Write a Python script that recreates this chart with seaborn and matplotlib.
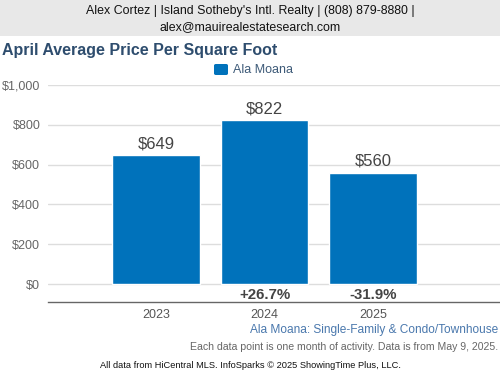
import matplotlib
matplotlib.use("Agg")
import matplotlib.pyplot as plt
from matplotlib.patches import Rectangle, FancyBboxPatch
import seaborn as sns
import pandas as pd

years = ["2023", "2024", "2025"]
values = [649, 822, 560]
value_labels = ["$649", "$822", "$560"]
pct_labels = ["", "+26.7%", "-31.9%"]
yticks = [0, 200, 400, 600, 800, 1000]
ytick_labels = ["$0", "$200", "$400", "$600", "$800", "$1,000"]
series = "Ala Moana"

sns.set_style("white")
plt.rcParams["font.family"] = ["Liberation Sans", "DejaVu Sans"]

W, H = 500, 375
fig = plt.figure(figsize=(5, 3.75), dpi=100)

def fx(px):
    return px / W

def fy(py):
    return 1 - py / H

# Header band
fig.patches.append(Rectangle((0, fy(36)), 1, 36 / H, transform=fig.transFigure,
                             facecolor="#e8e8e8", edgecolor="none", zorder=0))
fig.text(0.5, fy(11), "Alex Cortez | Island Sotheby's Intl. Realty | (808) 879-8880 |",
         ha="center", va="center", fontsize=8.9, color="#111111")
fig.text(0.5, fy(27), "alex@mauirealestatesearch.com",
         ha="center", va="center", fontsize=8.9, color="#111111")

fig.text(fx(2), fy(50), "April Average Price Per Square Foot", ha="left", va="center",
         fontsize=11.5, fontweight="bold", color="#2e4d6e")

# Legend
color = "#0072bb"
fig.patches.append(FancyBboxPatch((fx(214), fy(75)), 14 / W, 11 / H,
                                  boxstyle="round,pad=0,rounding_size=0.004",
                                  transform=fig.transFigure, facecolor=color,
                                  edgecolor="none"))
fig.text(fx(233), fy(70), series, ha="left", va="center", fontsize=9, color="#3d5a78")

ax = fig.add_axes([fx(48), fy(302), fx(500) - fx(48), (302 - 85) / H])
df = pd.DataFrame({"year": years, "value": values})
sns.barplot(data=df, x="year", y="value", color=color, saturation=1, width=0.81, ax=ax)

ax.set_xlim(-0.995, 3.17)
ax.set_ylim(-90.45, 1000)
ax.set_yticks(yticks)
ax.set_yticklabels(ytick_labels)
ax.grid(axis="y", color="#dddddd", linewidth=1)
ax.set_axisbelow(True)
for s in ["top", "right", "left"]:
    ax.spines[s].set_visible(False)
ax.spines["bottom"].set_color("#666666")
ax.spines["bottom"].set_linewidth(1)
ax.tick_params(axis="y", length=0, pad=5.5, labelsize=9, labelcolor="#666666")
ax.tick_params(axis="x", length=0, pad=5, labelsize=9, labelcolor="#555555")
ax.set_xlabel("")
ax.set_ylabel("")
for lbl in ax.get_yticklabels():
    lbl.set_clip_on(False)

for i, (v, lab, pct) in enumerate(zip(values, value_labels, pct_labels)):
    ax.text(i, v + 18, lab, ha="center", va="bottom", fontsize=12, color="#444444")
    if pct:
        ax.text(i, -55, pct, ha="center", va="center", fontsize=10.8,
                fontweight="bold", color="#444444")

fig.text(fx(498), fy(330), "Ala Moana: Single-Family & Condo/Townhouse", ha="right",
         va="center", fontsize=8.6, color="#4a78ad")
fig.text(fx(498), fy(347), "Each data point is one month of activity. Data is from May 9, 2025.",
         ha="right", va="center", fontsize=7.6, color="#666666")
fig.text(0.5, fy(366), "All data from HiCentral MLS. InfoSparks \u00a9 2025 ShowingTime Plus, LLC.",
         ha="center", va="center", fontsize=6.7, color="#111111")

fig.savefig("out.png", dpi=100)
